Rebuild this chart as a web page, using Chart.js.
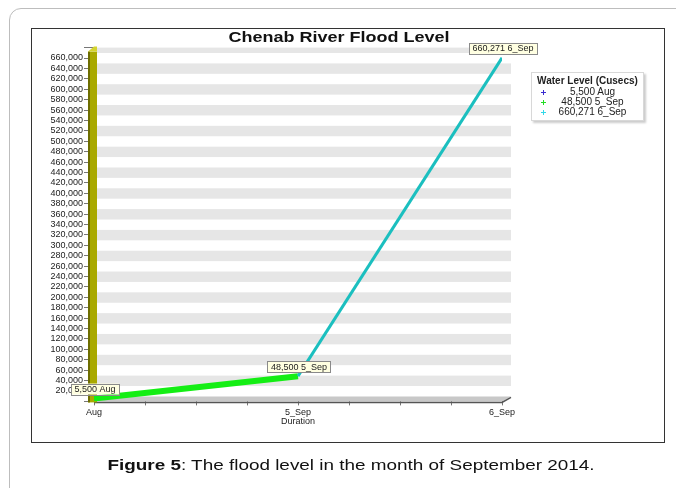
<!DOCTYPE html>
<html><head><meta charset="utf-8">
<script src="https://cdn.jsdelivr.net/npm/chart.js@4.4.1/dist/chart.umd.min.js"></script>
<style>
html,body{margin:0;padding:0;background:#fff;width:676px;height:488px;overflow:hidden;font-family:"Liberation Sans",Arial,sans-serif;}
#outer{position:absolute;left:9px;top:8px;width:700px;height:520px;border:1px solid #bdbdbd;border-radius:12px;}
#inner{position:absolute;left:31px;top:28px;width:632px;height:413px;border:1px solid #333;}
#cv{position:absolute;left:0;top:0;}
#title{position:absolute;left:0;width:678px;top:28px;text-align:center;font:bold 15px "Liberation Sans",Arial,sans-serif;color:#111;transform:scaleX(1.2);transform-origin:339px 0;}
#xtitle{position:absolute;left:248px;width:100px;top:416px;text-align:center;font:9px "Liberation Sans",Arial,sans-serif;color:#222;}
#legend{position:absolute;left:531px;top:72px;width:111px;height:47px;border:1px solid #d8d8d8;box-shadow:2px 2px 2px #ccc;background:#fff;font:10px "Liberation Sans",Arial,sans-serif;color:#222;}
#legend .t{font-weight:bold;text-align:center;margin-top:2px;height:12px;}
#legend .r{position:relative;height:10px;line-height:10px;}
#legend .mh{position:absolute;left:9px;top:5px;width:5px;height:1px;}
#legend .mv{position:absolute;left:11px;top:3px;width:1px;height:5px;}
#legend .l{position:absolute;left:20px;right:10px;text-align:center;}
#caption{position:absolute;left:0;width:702px;top:456px;text-align:center;font:15px "Liberation Sans",Arial,sans-serif;color:#111;transform:scaleX(1.26);transform-origin:351px 0;}
</style></head>
<body>
<div id="outer"></div>
<div id="inner"></div>
<canvas id="cv" width="676" height="488"></canvas>
<div id="title">Chenab River Flood Level</div>
<div id="xtitle">Duration</div>
<div id="legend"><div class="t">Water Level (Cusecs)</div></div>
<div id="caption"><b>Figure 5</b>: The flood level in the month of September 2014.</div>
<script>
const categories = ['Aug', '5_Sep', '6_Sep'];
const waterLevel = [5500, 48500, 660271];
const legendTitle = 'Water Level (Cusecs)';
const legendColors = ['#3a2cd0', '#22dd22', '#30d8e8'];
const segmentColors = ['#14ee14', '#1bbfbf'];
const segmentWidths = [6, 3];

const fmt = v => v.toLocaleString('en-US');
const labels = waterLevel.map((v, i) => fmt(v) + ' ' + categories[i]);

const lg = document.getElementById('legend');
labels.forEach((t, i) => {
  const r = document.createElement('div'); r.className = 'r';
  const mh = document.createElement('div'); mh.className = 'mh'; mh.style.background = legendColors[i];
  const mv = document.createElement('div'); mv.className = 'mv'; mv.style.background = legendColors[i];
  const l = document.createElement('span'); l.className = 'l'; l.textContent = t;
  r.appendChild(mh); r.appendChild(mv); r.appendChild(l); lg.appendChild(r);
});

const decor = {
  id: 'decor',
  beforeDatasetsDraw(chart) {
    const { ctx, chartArea: a, scales: { y } } = chart;
    ctx.save();
    const dx = 9, dy = -5;
    const step = 20000;
    for (let v = 0; v < y.max; v += step) {
      const idx = Math.round(v / step);
      if (idx % 2 === 1) {
        const y1 = y.getPixelForValue(v) + dy, y2 = Math.max(y.getPixelForValue(v + step) + dy, a.top);
        ctx.fillStyle = '#e6e6e6';
        ctx.fillRect(a.left + 3, y2, a.right + dx - a.left - 3, y1 - y2);
      }
    }
    ctx.fillStyle = '#c8c8c8';
    ctx.beginPath();
    ctx.moveTo(a.left, a.bottom);
    ctx.lineTo(a.right, a.bottom);
    ctx.lineTo(a.right + dx, a.bottom + dy);
    ctx.lineTo(a.left + dx, a.bottom + dy);
    ctx.closePath(); ctx.fill();
    ctx.strokeStyle = '#555'; ctx.lineWidth = 1.5;
    ctx.beginPath();
    ctx.moveTo(a.left, a.bottom + 1);
    ctx.lineTo(a.right, a.bottom + 1);
    ctx.lineTo(a.right + dx, a.bottom + 1 + dy);
    ctx.stroke();
    const wx = a.left - 6, top = a.top + 4;
    ctx.fillStyle = '#a9a900';
    ctx.fillRect(wx, top, 9, a.bottom - top + 1);
    ctx.fillStyle = '#6e6e00';
    ctx.fillRect(wx, top, 2, a.bottom - top + 1);
    ctx.fillStyle = '#d4d430';
    ctx.beginPath();
    ctx.moveTo(wx, top);
    ctx.lineTo(wx + 6, top - 5);
    ctx.lineTo(wx + 9, top - 5);
    ctx.lineTo(wx + 9, top);
    ctx.closePath(); ctx.fill();
    ctx.restore();
  },
  afterDatasetsDraw(chart) {
    const { ctx } = chart;
    const meta = chart.getDatasetMeta(0);
    ctx.save();
    ctx.font = '9px "Liberation Sans", Arial, sans-serif';
    ctx.textBaseline = 'middle';
    ctx.textAlign = 'center';
    meta.data.forEach((p, i) => {
      const t = labels[i];
      const w = ctx.measureText(t).width + 7, h = 11;
      const cx = p.x + 1, by = p.y - 4;
      ctx.fillStyle = '#ffffe1';
      ctx.fillRect(cx - w / 2, by - h, w, h);
      ctx.strokeStyle = '#8a8a8a'; ctx.lineWidth = 1;
      ctx.strokeRect(Math.round(cx - w / 2) + 0.5, Math.round(by - h) + 0.5, Math.round(w), h);
      ctx.fillStyle = '#222';
      ctx.fillText(t, cx, by - h / 2 + 0.5);
    });
    ctx.restore();
  }
};

new Chart(document.getElementById('cv'), {
  type: 'line',
  data: {
    datasets: [{
      data: waterLevel.map((v, i) => ({ x: i, y: v })),
      borderColor: segmentColors[0],
      borderWidth: segmentWidths[0],
      pointRadius: 0,
      tension: 0,
      segment: {
        borderColor: c => segmentColors[c.p0DataIndex],
        borderWidth: c => segmentWidths[c.p0DataIndex]
      }
    }]
  },
  options: {
    responsive: false,
    animation: false,
    events: [],
    layout: { padding: { left: 0, top: 47.6, right: 174, bottom: 0 } },
    plugins: { legend: { display: false }, tooltip: { enabled: false }, title: { display: false } },
    scales: {
      x: {
        type: 'linear', min: 0, max: categories.length - 1,
        afterFit: s => { s.height = 488 - 401.4; },
        afterBuildTicks: s => { s.ticks = []; for (let v = 0; v <= categories.length - 1 + 1e-9; v += 0.25) s.ticks.push({ value: v }); },
        ticks: {
          autoSkip: false, maxRotation: 0, padding: 2,
          font: { size: 9, family: '"Liberation Sans", Arial, sans-serif' }, color: '#222',
          callback: v => Number.isInteger(v) ? categories[v] : ''
        },
        grid: { drawOnChartArea: false, drawTicks: true, tickLength: 4, color: '#777' },
        border: { display: false }
      },
      y: {
        min: 0, max: 680000,
        afterFit: s => { s.width = 94; },
        afterBuildTicks: s => { s.ticks = []; for (let v = 0; v <= 680000; v += 20000) s.ticks.push({ value: v }); },
        ticks: {
          autoSkip: false, padding: 1,
          font: { size: 9, family: '"Liberation Sans", Arial, sans-serif' }, color: '#222',
          callback: v => (v === 0 || v === 680000) ? '' : fmt(v)
        },
        grid: { drawOnChartArea: false, drawTicks: true, tickLength: 10, color: '#777' },
        border: { display: false }
      }
    }
  },
  plugins: [decor]
});
</script>
</body></html>
